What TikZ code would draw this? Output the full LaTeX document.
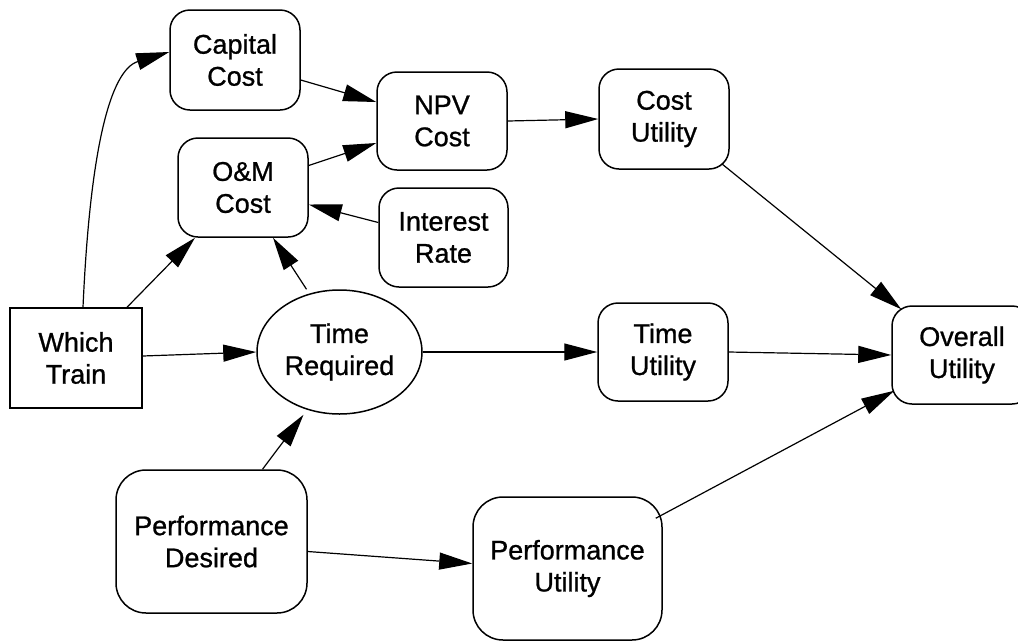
\documentclass[tikz,border=0pt]{standalone}
\usepackage{fontspec}
\setmainfont{Liberation Sans}
\newfontfamily\dfont{Liberation Sans}[FakeBold=0.9]
\usetikzlibrary{arrows.meta,shapes.geometric}
\tikzset{
  box/.style={draw,line width=1.5pt,rounded corners=20pt,align=center,inner sep=0pt,
    font=\dfont\fontsize{27}{32}\selectfont},
  bigbox/.style={box,rounded corners=30pt},
  sqbox/.style={box,rounded corners=0pt},
  ell/.style={draw,ellipse,line width=1.5pt,align=center,inner sep=0pt,
    font=\dfont\fontsize{27}{32}\selectfont},
  conn/.style={line width=1.2pt,-{Triangle[length=33pt,width=17pt]}},
}
\begin{document}
\begin{tikzpicture}[x=1pt,y=-1pt]
\useasboundingbox (0,0) rectangle (1018,641);
\clip (0,0) rectangle (1018,641);
\node[box,minimum width=130pt,minimum height=100pt] (cap) at (235,60) {Capital\\Cost};
\node[box,minimum width=130pt,minimum height=98pt] (npv) at (442,121) {NPV\\Cost};
\node[box,minimum width=130pt,minimum height=99pt] (om) at (243,187.5) {O\&M\\Cost};
\node[box,minimum width=129pt,minimum height=99pt] (ir) at (443.5,237.5) {Interest\\Rate};
\node[box,minimum width=130pt,minimum height=100pt] (cu) at (664,119) {Cost\\Utility};
\node[sqbox,minimum width=132pt,minimum height=100pt] (wt) at (76,358) {Which\\Train};
\node[ell,minimum width=165pt,minimum height=124pt] (tr) at (339.5,352) {Time\\Required};
\node[box,minimum width=140pt,minimum height=98pt,text width=132pt] (ou) at (962,355) {Overall\\Utility};
\node[box,minimum width=130pt,minimum height=98pt] (tu) at (663,352) {Time\\Utility};
\node[bigbox,minimum width=191pt,minimum height=143pt] (pd) at (211.5,541.5) {Performance\\Desired};
\node[bigbox,minimum width=189pt,minimum height=143pt] (pu) at (567.5,568.5) {Performance\\Utility};

\draw[conn] ([xshift=7pt]wt.north) .. controls (90,150) and (110,70) .. ([yshift=8pt]cap.west);
\draw[conn] ([xshift=51pt]wt.north) -- ([xshift=-48pt]om.south);
\draw[conn] ([xshift=-33pt]tr.north) -- ([xshift=30pt]om.south);
\draw[conn] ([yshift=15pt]ir.west) -- ([yshift=-17pt]om.east);
\draw[conn] ([yshift=22pt]om.east) -- ([yshift=-22pt]npv.west);
\draw[conn] ([yshift=-20pt]cap.east) -- ([yshift=19pt]npv.west);
\draw[conn] (npv.east) -- (cu.west);
\draw[conn] ([xshift=-8pt,yshift=6pt]cu.south east) -- ([xshift=10pt,yshift=-4pt]ou.north west);
\draw[conn] ([yshift=2pt]wt.east) -- (tr.west);
\draw[conn] (tr.east) -- (tu.west);
\draw[conn] (tu.east) -- (ou.west);
\draw[conn] ([xshift=51pt]pd.north) -- ([xshift=-36pt]tr.south);
\draw[conn] ([yshift=-10pt]pd.east) -- ([yshift=5pt]pu.west);
\draw[conn] ([xshift=-7pt,yshift=-22pt]pu.north east) -- ([xshift=3pt,yshift=14pt]ou.south west);
\end{tikzpicture}
\end{document}
